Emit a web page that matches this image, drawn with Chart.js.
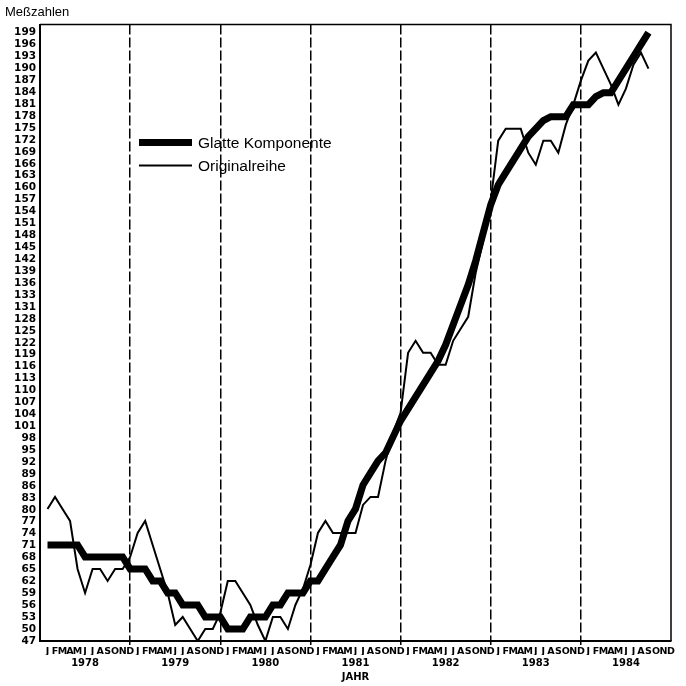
<!DOCTYPE html>
<html>
<head>
<meta charset="utf-8">
<title>Meßzahlen</title>
<script src="https://cdn.jsdelivr.net/npm/chart.js@4/dist/chart.umd.min.js"></script>
<style>
  body { margin: 0; background: #fff; }
</style>
</head>
<body>
<canvas id="linechart" width="686" height="686"></canvas>
<script>
// Monthly values Jan 1978 - Sep 1984
const smoothValues = [
    71, 71, 71, 71, 71, 68, 68, 68, 68, 68, 68, 65,             // 1978
    65, 65, 62, 62, 59, 59, 56, 56, 56, 53, 53, 53,             // 1979
    50, 50, 50, 53, 53, 53, 56, 56, 59, 59, 59, 62,             // 1980
    62, 65, 68, 71, 77, 80, 86, 89, 92, 94, 98, 102,            // 1981
    105, 108, 111, 114, 117, 121, 126, 131, 136, 142, 149, 156, // 1982
    161, 164, 167, 170, 173, 175, 177, 178, 178, 178, 181, 181, // 1983
    181, 183, 184, 184, 187, 190, 193, 196, 199                 // 1984
];
const originalValues = [
    80, 83, 80, 77, 65, 59, 65, 65, 62, 65, 65, 68,             // 1978
    74, 77, 71, 65, 59, 51, 53, 50, 47, 50, 50, 54,             // 1979
    62, 62, 59, 56, 51, 47, 53, 53, 50, 56, 60, 66,             // 1980
    74, 77, 74, 74, 74, 74, 81, 83, 83, 92, 99, 104,            // 1981
    119, 122, 119, 119, 116, 116, 122, 125, 128, 139, 147, 157, // 1982
    172, 175, 175, 175, 169, 166, 172, 172, 169, 176, 181, 187, // 1983
    192, 194, 190, 186, 181, 185, 191, 194, 190                 // 1984
];

// Axis labels
const monthLetters = ['J', 'F', 'M', 'A', 'M', 'J', 'J', 'A', 'S', 'O', 'N', 'D'];
const years = ['1978', '1979', '1980', '1981', '1982', '1983', '1984'];
const yTickLabels = [
    '47', '50', '53', '56', '59', '62', '65', '68', '71', '74', '77', '80', '83',
    '86', '89', '92', '95', '98', '101', '104', '107', '110', '113', '116', '119',
    '122', '125', '128', '131', '133', '136', '139', '142', '145', '148', '151',
    '154', '157', '160', '163', '166', '169', '172', '175', '178', '181', '184',
    '187', '190', '193', '196', '199'
];

const monthCount = years.length * 12;
const monthTicks = [];
for (let m = 1; m <= monthCount; m++) monthTicks.push(m);
const yearTicks = years.map((y, i) => i * 12 + 6);
const yLow = Number(yTickLabels[0]);
const yHigh = Number(yTickLabels[yTickLabels.length - 1]);

// dashed line only at year ends
const yearLine = (ctx) => {
    const v = ctx.tick ? ctx.tick.value : -1;
    return (v > 0 && v < monthCount && v % 12 === 0) ? '#000' : 'rgba(0,0,0,0)';
};

// top and right edge of the plot box
const frame = {
    id: 'frame',
    afterDatasetsDraw(chart) {
        const { ctx, chartArea: a } = chart;
        ctx.save();
        ctx.strokeStyle = '#000';
        ctx.lineWidth = 1.5;
        ctx.beginPath();
        ctx.moveTo(a.left, a.top);
        ctx.lineTo(a.right, a.top);
        ctx.lineTo(a.right, a.bottom);
        ctx.stroke();
        ctx.restore();
    }
};

// legend sits inside the plot
const insideLegend = {
    id: 'insideLegend',
    afterDraw(chart) {
        const { ctx, chartArea: a } = chart;
        ctx.save();
        ctx.font = '15.5px "Liberation Sans", Arial, sans-serif';
        ctx.textBaseline = 'middle';
        ctx.fillStyle = '#000';
        chart.data.datasets.forEach((ds, i) => {
            const y = a.top + 118 + i * 23;
            ctx.lineWidth = ds.borderWidth;
            ctx.strokeStyle = ds.borderColor;
            ctx.beginPath();
            ctx.moveTo(a.left + 99, y);
            ctx.lineTo(a.left + 152, y);
            ctx.stroke();
            ctx.fillText(ds.label, a.left + 158, y + 1);
        });
        ctx.restore();
    }
};

Chart.defaults.font.family = '"DejaVu Sans", sans-serif';
Chart.defaults.color = '#000';

var ctx = document.getElementById('linechart').getContext('2d');
new Chart(ctx, {
    type: 'line',
    data: {
        datasets: [{
            label: 'Glatte Komponente',
            data: smoothValues.map((v, i) => ({ x: i + 1, y: v })),
            borderColor: '#000',
            borderWidth: 7,
            pointRadius: 0,
            tension: 0
        }, {
            label: 'Originalreihe',
            data: originalValues.map((v, i) => ({ x: i + 1, y: v })),
            borderColor: '#000',
            borderWidth: 2,
            pointRadius: 0,
            tension: 0
        }]
    },
    options: {
        responsive: false,
        animation: false,
        layout: { padding: { left: 5, right: 15, top: 0, bottom: 0 } },
        plugins: {
            legend: { display: false },
            tooltip: { enabled: false },
            title: {
                display: true,
                text: 'Meßzahlen',
                align: 'start',
                color: '#000',
                font: { family: '"Liberation Sans", Arial, sans-serif', size: 13, weight: 'normal' },
                padding: { top: 5, bottom: 4 }
            }
        },
        scales: {
            x: {
                type: 'linear',
                min: 0,
                max: monthCount,
                position: 'bottom',
                weight: 0,
                afterBuildTicks: (s) => { s.ticks = monthTicks.map(v => ({ value: v })); },
                afterFit: (s) => { s.height = 14; },
                ticks: {
                    autoSkip: false,
                    maxRotation: 0,
                    minRotation: 0,
                    padding: 1,
                    font: { size: 9.5, weight: 'bold' },
                    callback: (v) => monthLetters[(v - 1) % 12]
                },
                grid: { color: yearLine, tickColor: yearLine, lineWidth: 1.5, tickLength: 4 },
                border: { display: true, color: '#000', width: 2, dash: [10, 3] }
            },
            x2: {
                type: 'linear',
                min: 0,
                max: monthCount,
                position: 'bottom',
                weight: 1,
                afterBuildTicks: (s) => { s.ticks = yearTicks.map(v => ({ value: v })); },
                afterFit: (s) => { s.height = 31; },
                ticks: {
                    autoSkip: false,
                    maxRotation: 0,
                    minRotation: 0,
                    padding: 2,
                    font: { size: 10, weight: 'bold' },
                    callback: (v, i) => years[i]
                },
                grid: { display: false, drawTicks: false },
                border: { display: false },
                title: {
                    display: true,
                    text: 'JAHR',
                    font: { size: 10, weight: 'bold' },
                    padding: { top: 0, bottom: 3 }
                }
            },
            y: {
                min: yLow,
                max: 201,
                afterBuildTicks: (s) => {
                    const step = (yHigh - yLow) / (yTickLabels.length - 1);
                    s.ticks = yTickLabels.map((l, i) => ({ value: yLow + i * step }));
                },
                afterFit: (s) => { s.width = 35; },
                ticks: {
                    autoSkip: false,
                    padding: 4,
                    font: { size: 10.5, weight: 'bold' },
                    callback: (v, i) => yTickLabels[i]
                },
                grid: { display: false, drawTicks: false },
                border: { color: '#000', width: 2 }
            }
        }
    },
    plugins: [frame, insideLegend]
});
</script>
</body>
</html>
